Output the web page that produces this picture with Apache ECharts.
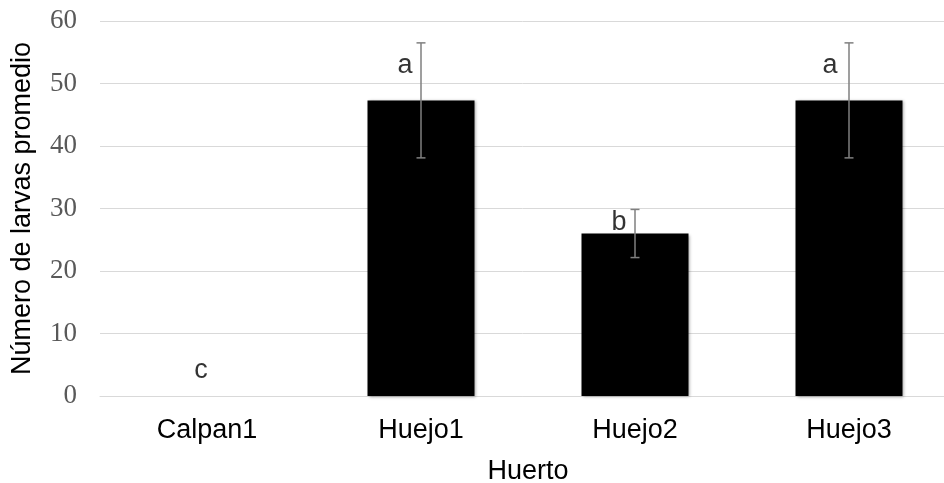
<!DOCTYPE html>
<html>
<head>
<meta charset="utf-8">
<script src="https://cdn.jsdelivr.net/npm/echarts@6/dist/echarts.min.js"></script>
<style>
  html, body { margin: 0; padding: 0; background: #fff; }
  #chart { width: 944px; height: 483px; }
</style>
</head>
<body>
<div id="chart"></div>
<script>
// Orchard data: mean larvae count per orchard with its error range
var categories = ['Calpan1', 'Huejo1', 'Huejo2', 'Huejo3'];
var means = [0, 47.3, 26.0, 47.3];
var errors = [0, 9.2, 3.85, 9.2];
// Significance letters and the value at which each one sits
var letters = ['c', 'a', 'b', 'a'];
var letterAt = [4.0, 52.8, 27.8, 52.8];
var yTicks = [0, 10, 20, 30, 40, 50, 60];

// Horizontal pixel shift of each letter relative to its category centre
var letterShift = [-6, -16, -16, -19];

var chart = echarts.init(document.getElementById('chart'), null, { renderer: 'canvas' });

var errorData = categories.map(function (c, i) {
  return [i, means[i] - errors[i], means[i] + errors[i]];
});
var letterData = categories.map(function (c, i) {
  return { value: [i, letterAt[i]], label: { offset: [letterShift[i], 0] } };
});

chart.setOption({
  animation: false,
  backgroundColor: '#ffffff',
  // plot area runs past the right edge of the canvas
  grid: { left: 100, width: 856, top: 21, bottom: 87, containLabel: false, outerBoundsMode: 'none' },
  xAxis: {
    type: 'category',
    data: categories,
    name: 'Huerto',
    nameLocation: 'middle',
    nameGap: 62,
    nameTextStyle: { fontFamily: 'Liberation Sans', fontSize: 27, color: '#000' },
    axisLine: { lineStyle: { color: '#d9d9d9', width: 1 } },
    axisTick: { show: false },
    axisLabel: { fontFamily: 'Liberation Sans', fontSize: 27, color: '#000', margin: 21 },
    splitLine: { show: false }
  },
  yAxis: {
    type: 'value',
    min: yTicks[0],
    max: yTicks[yTicks.length - 1],
    interval: yTicks[1] - yTicks[0],
    name: 'Número de larvas promedio',
    nameLocation: 'middle',
    nameGap: 64,
    nameRotate: 90,
    nameTextStyle: { fontFamily: 'Liberation Sans', fontSize: 27, color: '#000' },
    axisLine: { show: false },
    axisTick: { show: false },
    axisLabel: { fontFamily: 'Liberation Serif', fontSize: 27, color: '#595959', margin: 23 },
    splitLine: { lineStyle: { color: '#d9d9d9', width: 1 } }
  },
  series: [
    {
      type: 'bar',
      data: means,
      barWidth: '50%',
      itemStyle: {
        color: '#000000',
        shadowColor: 'rgba(0,0,0,0.35)',
        shadowBlur: 3,
        shadowOffsetX: 1,
        shadowOffsetY: 1
      },
      z: 2
    },
    {
      type: 'custom',
      data: errorData,
      z: 3,
      renderItem: function (params, api) {
        var i = api.value(0);
        var lo = api.value(1), hi = api.value(2);
        if (hi - lo <= 0) return null;
        var pLo = api.coord([i, lo]);
        var pHi = api.coord([i, hi]);
        var half = 4.5;
        var style = { stroke: '#7f7f7f', lineWidth: 1.5 };
        return {
          type: 'group',
          children: [
            { type: 'line', shape: { x1: pLo[0], y1: pLo[1], x2: pHi[0], y2: pHi[1] }, style: style },
            { type: 'line', shape: { x1: pHi[0] - half, y1: pHi[1], x2: pHi[0] + half, y2: pHi[1] }, style: style },
            { type: 'line', shape: { x1: pLo[0] - half, y1: pLo[1], x2: pLo[0] + half, y2: pLo[1] }, style: style }
          ]
        };
      }
    },
    {
      type: 'scatter',
      data: letterData,
      symbolSize: 0,
      silent: true,
      z: 4,
      label: {
        show: true,
        position: 'inside',
        formatter: function (p) { return letters[p.dataIndex]; },
        fontFamily: 'Liberation Sans',
        fontSize: 27,
        color: '#000'
      }
    }
  ]
});
</script>
</body>
</html>
